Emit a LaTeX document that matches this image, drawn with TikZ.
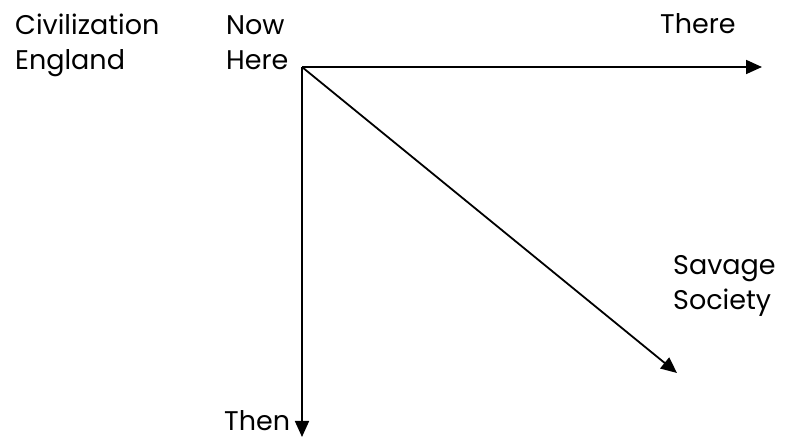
\documentclass[tikz,border=0pt]{standalone}
\usepackage{fontspec}
\setmainfont{Poppins}
\usetikzlibrary{arrows.meta}
\begin{document}
\begin{tikzpicture}[x=1pt,y=-1pt,
  lbl/.style={anchor=base west,inner sep=0pt,font=\fontsize{27}{35}\selectfont},
  arr/.style={line width=1.8pt,-{Triangle[length=16pt,width=14pt]}}]
\useasboundingbox (0,0) rectangle (785,438);
\node[lbl] (civ) at (15,35) {Civilization};
\node[lbl] (eng) at (15,70) {England};
\node[lbl] (now) at (226,35) {Now};
\node[lbl] (here) at (226,70) {Here};
\node[lbl] (there) at (660,34) {There};
\node[lbl] (sav) at (673,275) {Savage};
\node[lbl] (soc) at (673,310) {Society};
\node[lbl] (then) at (224,431) {Then};
\coordinate (O) at (302,67);
\coordinate (E) at (762,67);
\coordinate (S) at (302,437);
\coordinate (D) at (677,373);
\draw[arr] (O) -- (E);
\draw[arr] (O) -- (S);
\draw[arr] (O) -- (D);
\end{tikzpicture}
\end{document}
